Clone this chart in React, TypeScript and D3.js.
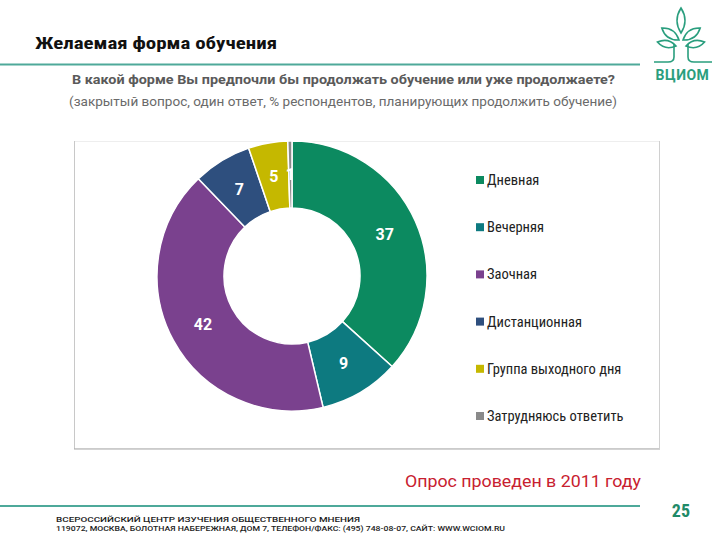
import React from "react";
import * as d3 from "d3";

const categories = ["Дневная", "Вечерняя", "Заочная", "Дистанционная", "Группа выходного дня", "Затрудняюсь ответить"];
// printed labels (% respondents)
const labels = [37, 9, 42, 7, 5, 1];
const shares = [36.7, 9.6, 41.5, 7.0, 4.7, 0.5];
const colors = ["#0c8a60", "#0d7a80", "#7a418e", "#2e4f7e", "#c5b800", "#8a8a8a"];

const title = "Желаемая форма обучения";
const question = "В какой форме Вы предпочли бы продолжать обучение или уже продолжаете?";
const note = "(закрытый вопрос, один ответ, % респондентов, планирующих продолжить обучение)";
const surveyNote = "Опрос проведен в 2011 году";
const pageNum = "25";
const footer1 = "ВСЕРОССИЙСКИЙ ЦЕНТР ИЗУЧЕНИЯ ОБЩЕСТВЕННОГО МНЕНИЯ";
const footer2 = "119072, МОСКВА, БОЛОТНАЯ НАБЕРЕЖНАЯ, ДОМ 7, ТЕЛЕФОН/ФАКС: (495) 748-08-07, САЙТ: WWW.WCIOM.RU";

const W = 720;
const H = 540;

export default function App() {
  const cx = 292;
  const cy = 276;
  const rOuter = 135;
  const rInner = 68;

  const pie = d3.pie<number>().value((d) => d).sort(null);
  const arcs = pie(shares);
  const arc = d3.arc<d3.PieArcDatum<number>>().innerRadius(rInner).outerRadius(rOuter);

  const legendY = d3.scalePoint<number>().domain(d3.range(categories.length)).range([180, 416]);

  const teal = "#4ea99a";
  const logo = "#2a9e7e";
  const condensed = "'Liberation Sans Narrow', 'Roboto Condensed', 'Roboto', 'Liberation Sans', sans-serif";

  const leaf = (x: number, y: number, len: number, wid: number, rot: number, key: string) => (
    <path
      key={key}
      transform={`translate(${x},${y}) rotate(${rot})`}
      d={`M0,0 Q${wid},${-len / 2} 0,${-len} Q${-wid},${-len / 2} 0,0 Z`}
      fill="none"
      stroke={logo}
      strokeWidth={1.6}
    />
  );

  return (
    <svg
      width={W}
      height={H}
      style={{ position: "absolute", left: 0, top: 0, background: "#fff" }}
      fontFamily="Roboto, 'Liberation Sans', sans-serif"
    >
      <rect width={W} height={H} fill="#fff" />

      {/* Header */}
      <text x={35} y={49} fontSize={17} fontWeight="bold" fill="#111" fontFamily={condensed}
        textLength={242} lengthAdjust="spacingAndGlyphs">
        {title}
      </text>
      <line x1={0} x2={640} y1={64.5} y2={64.5} stroke={teal} strokeWidth={2} />
      <text x={72} y={84} fontSize={13.5} fontWeight="bold" fill="#5a5a5a"
        textLength={543} lengthAdjust="spacingAndGlyphs">
        {question}
      </text>
      <text x={69} y={106} fontSize={13} fill="#6a6a6a" textLength={548} lengthAdjust="spacingAndGlyphs">
        {note}
      </text>

      {/* Logo */}
      <g>
        {leaf(681, 33, 25, 8, 0, "l0")}
        {leaf(679, 40, 21, 8, -55, "l1")}
        {leaf(683, 40, 21, 8, 55, "l2")}
        {leaf(676, 46, 19, 7, -78, "l3")}
        {leaf(686, 46, 19, 7, 78, "l4")}
        <path d="M674,44 L674,57 Q674,62 668,62 L654,62" fill="none" stroke={logo} strokeWidth={1.6} />
        <path d="M688,44 L688,57 Q688,62 694,62 L712,62" fill="none" stroke={logo} strokeWidth={1.6} />
        <text x={682.5} y={80} textAnchor="middle" fontSize={14} fontWeight="bold" fill={logo} letterSpacing={0.5}>
          ВЦИОМ
        </text>
      </g>

      {/* Chart frame */}
      <rect x={74.5} y={141.5} width={585} height={307} fill="none" stroke="#eeeeee" strokeWidth={1} />
      <line x1={74.5} x2={74.5} y1={141} y2={449} stroke="#c8c8c8" />
      <line x1={74} x2={660} y1={449} y2={449} stroke="#a8a8a8" />
      <line x1={659.5} x2={659.5} y1={141} y2={449} stroke="#d0d0d0" />

      {/* Donut */}
      <g transform={`translate(${cx},${cy})`}>
        {arcs.map((a, i) => (
          <path key={i} d={arc(a) || ""} fill={colors[i]} stroke="#fff" strokeWidth={1.5} />
        ))}
        {arcs.map((a, i) => {
          const [lx, ly] = arc.centroid(a);
          return (
            <text
              key={`t${i}`}
              x={lx}
              y={ly}
              dy="0.35em"
              textAnchor="middle"
              fontSize={16}
              fontWeight="bold"
              fill="#fff"
            >
              {labels[i]}
            </text>
          );
        })}
      </g>

      {/* Legend */}
      {categories.map((c, i) => {
        const y = legendY(i) as number;
        return (
          <g key={c}>
            <rect x={476} y={y - 4} width={8} height={8} fill={colors[i]} />
            <text x={487} y={y} dy="0.35em" fontSize={14.5} fill="#222" fontFamily={condensed}>
              {c}
            </text>
          </g>
        );
      })}

      {/* Survey note */}
      <text x={405} y={487} fontSize={16.5} fill="#c8202f" textLength={236} lengthAdjust="spacingAndGlyphs">
        {surveyNote}
      </text>

      {/* Footer */}
      <line x1={0} x2={640} y1={506} y2={506} stroke={teal} strokeWidth={2} />
      <text x={690} y={517} textAnchor="end" fontSize={18} fontWeight="bold" fill="#1f8a68" fontFamily={condensed}>
        {pageNum}
      </text>
      <text x={56} y={522} fontSize={8} fontWeight={500} fill="#222" textLength={304} lengthAdjust="spacingAndGlyphs">
        {footer1}
      </text>
      <text x={56} y={531} fontSize={8} fontWeight={500} fill="#222" textLength={449} lengthAdjust="spacingAndGlyphs">
        {footer2}
      </text>
    </svg>
  );
}
